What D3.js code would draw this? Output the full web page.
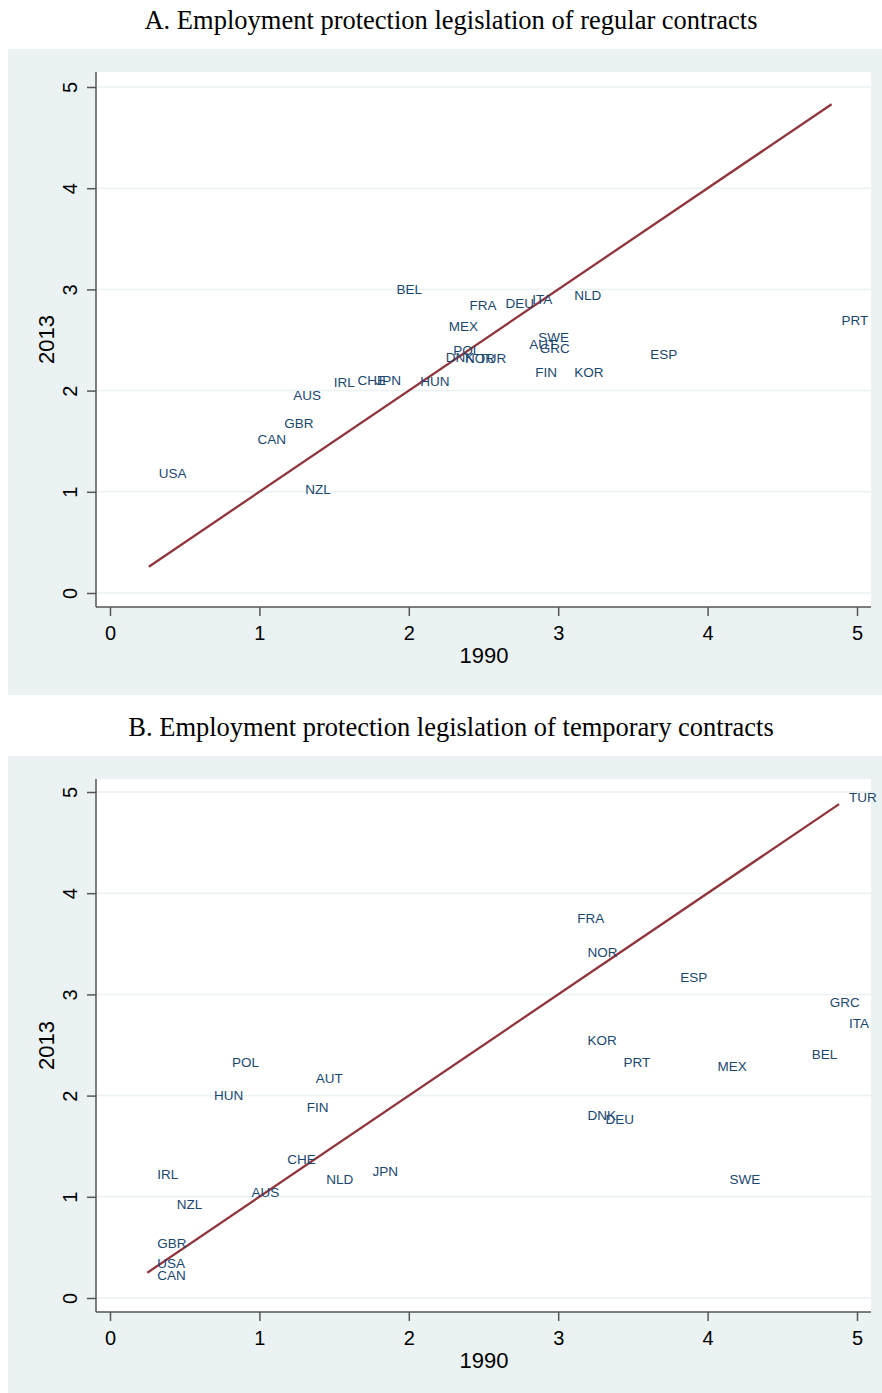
<!DOCTYPE html>
<html>
<head>
  <meta charset="UTF-8">
  <title>EPL 1990 vs 2013</title>
  <script src="https://d3js.org/d3.v7.min.js"></script>
  <style>
    body { margin: 0; background: #fff; }
    svg text { font-family: "Liberation Sans", Arial, sans-serif; }
  </style>
</head>
<body>
<div id="chart"></div>
<script>
  // Panel A: regular contracts
  const countriesA = ["BEL","FRA","DEU","ITA","NLD","PRT","MEX","SWE","AUT","GRC","POL","DNK","NOR","TUR","ESP","FIN","KOR","HUN","JPN","CHE","IRL","AUS","GBR","CAN","USA","NZL"];
  const epl1990A  = [1.85, 2.34, 2.58, 2.76, 3.04, 4.83, 2.20, 2.80, 2.74, 2.81, 2.23, 2.18, 2.31, 2.40, 3.55, 2.78, 3.04, 2.01, 1.71, 1.59, 1.43, 1.16, 1.10, 0.92, 0.26, 1.24];
  const epl2013A  = [3.00, 2.84, 2.86, 2.90, 2.94, 2.69, 2.63, 2.52, 2.46, 2.42, 2.40, 2.33, 2.32, 2.32, 2.36, 2.18, 2.18, 2.09, 2.10, 2.10, 2.08, 1.95, 1.67, 1.52, 1.18, 1.02];

  // Panel B: temporary contracts
  const countriesB = ["TUR","FRA","NOR","ESP","GRC","ITA","KOR","PRT","MEX","BEL","POL","AUT","HUN","FIN","DNK","DEU","CHE","JPN","NLD","SWE","IRL","AUS","NZL","GBR","USA","CAN"];
  const epl1990B  = [4.88, 3.06, 3.13, 3.75, 4.75, 4.88, 3.13, 3.37, 4.00, 4.63, 0.75, 1.31, 0.63, 1.25, 3.13, 3.25, 1.12, 1.69, 1.38, 4.08, 0.25, 0.88, 0.38, 0.25, 0.25, 0.25];
  const epl2013B  = [4.95, 3.75, 3.41, 3.17, 2.92, 2.71, 2.54, 2.33, 2.29, 2.41, 2.33, 2.17, 2.00, 1.88, 1.80, 1.76, 1.37, 1.25, 1.17, 1.17, 1.22, 1.04, 0.92, 0.54, 0.34, 0.22];

  const ticks = [0, 1, 2, 3, 4, 5];

  const W = 882, H = 1393;
  const svg = d3.select("#chart").append("svg")
    .attr("width", W).attr("height", H);

  function panel(cfg) {
    const g = svg.append("g");

    // title
    g.append("text")
      .attr("x", 451).attr("y", cfg.titleY)
      .attr("text-anchor", "middle")
      .style("font-family", "'Liberation Serif', 'Times New Roman', serif")
      .style("font-size", "26.5px")
      .text(cfg.title);

    // outer background
    g.append("rect")
      .attr("x", 8).attr("y", cfg.bgTop)
      .attr("width", W - 8).attr("height", cfg.bgBottom - cfg.bgTop)
      .attr("fill", "#eaf2f3");

    // plot region
    g.append("rect")
      .attr("x", 96).attr("y", cfg.top)
      .attr("width", 871 - 96).attr("height", cfg.bottom - cfg.top)
      .attr("fill", "#fff");

    const x = d3.scaleLinear().domain([0, 5]).range([110, 857]);
    const y = d3.scaleLinear().domain([0, 5]).range([cfg.y0, cfg.y0 - 506]);

    // grid lines
    g.selectAll(".grid").data(ticks).enter().append("line")
      .attr("x1", 97).attr("x2", 871)
      .attr("y1", d => y(d)).attr("y2", d => y(d))
      .attr("stroke", "#eaf2f3").attr("stroke-width", 1.5);

    // y axis
    const yAx = g.append("g")
      .attr("transform", "translate(96,0)")
      .call(d3.axisLeft(y).tickValues(ticks).tickSize(9).tickPadding(0).tickFormat(d3.format("d")));
    yAx.select(".domain").attr("d", `M0,${cfg.top}V${cfg.bottom}`).attr("stroke", "#555").attr("stroke-width", 1.5);
    yAx.selectAll(".tick line").attr("stroke", "#555").attr("stroke-width", 1.5);
    yAx.selectAll(".tick text")
      .attr("x", 0).attr("dy", null)
      .attr("transform", "translate(-26,0) rotate(-90)")
      .attr("text-anchor", "middle")
      .attr("dominant-baseline", "central")
      .style("font-size", "20px").attr("fill", "#000");

    // x axis
    const xAx = g.append("g")
      .attr("transform", `translate(0,${cfg.bottom})`)
      .call(d3.axisBottom(x).tickValues(ticks).tickSize(9).tickPadding(10).tickFormat(d3.format("d")));
    xAx.select(".domain").attr("d", "M96,0H871").attr("stroke", "#555").attr("stroke-width", 1.5);
    xAx.selectAll(".tick line").attr("stroke", "#555").attr("stroke-width", 1.5);
    xAx.selectAll(".tick text").style("font-size", "20px").attr("fill", "#000");

    // axis titles
    g.append("text")
      .attr("transform", `translate(46,${(cfg.top + cfg.bottom) / 2}) rotate(-90)`)
      .attr("text-anchor", "middle").attr("dominant-baseline", "central")
      .style("font-size", "22px").text("2013");
    g.append("text")
      .attr("x", 484).attr("y", cfg.bottom + 56)
      .attr("text-anchor", "middle")
      .style("font-size", "22px").text("1990");

    // 45-degree line across the range of 1990 values
    const ext = d3.extent(cfg.xs);
    g.append("line")
      .attr("x1", x(ext[0])).attr("y1", y(ext[0]))
      .attr("x2", x(ext[1])).attr("y2", y(ext[1]))
      .attr("stroke", "#90353b").attr("stroke-width", 2.3);

    // country labels
    g.selectAll(".lab").data(cfg.names).enter().append("text")
      .attr("x", (d, i) => x(cfg.xs[i]) + 10)
      .attr("y", (d, i) => y(cfg.ys[i]))
      .attr("dominant-baseline", "central")
      .style("font-size", "13.5px")
      .attr("fill", "#1a476f")
      .text(d => d);
  }

  panel({
    title: "A. Employment protection legislation of regular contracts",
    titleY: 29, bgTop: 49, bgBottom: 695, top: 72, bottom: 607, y0: 593,
    names: countriesA, xs: epl1990A, ys: epl2013A
  });

  panel({
    title: "B. Employment protection legislation of temporary contracts",
    titleY: 736, bgTop: 756, bgBottom: 1393, top: 779, bottom: 1312, y0: 1298,
    names: countriesB, xs: epl1990B, ys: epl2013B
  });
</script>
</body>
</html>
